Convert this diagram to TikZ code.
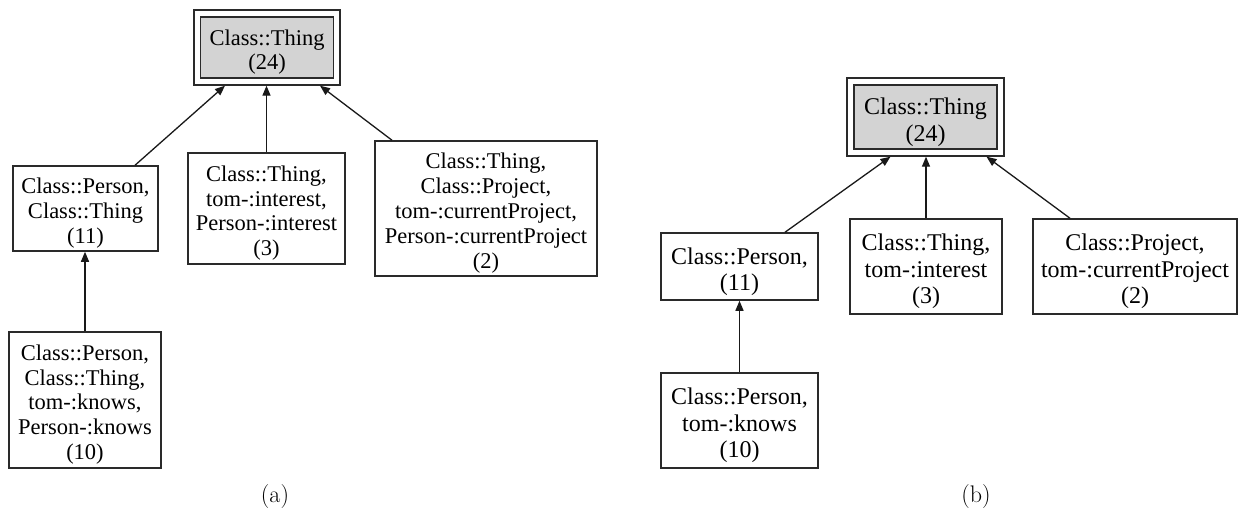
\documentclass[tikz,border=0pt]{standalone}
\usepackage{fontspec}
\newfontfamily\tms{Liberation Serif}
\usetikzlibrary{arrows.meta,calc}
\definecolor{edgec}{HTML}{2A2A2A}
\definecolor{fillc}{HTML}{D3D3D3}
\tikzset{
  box/.style={draw=edgec, line width=1.5pt, rectangle, inner sep=0pt},
  txa/.style={font=\tms\fontsize{22.5}{24.8}\selectfont, align=center, inner sep=0pt, yshift=-4.5pt, text=black},
  txb/.style={font=\tms\fontsize{24}{26.5}\selectfont, align=center, inner sep=0pt, yshift=-5pt, text=black},
  topin/.style={draw=edgec, line width=1.8pt, fill=fillc},
  topout/.style={draw=edgec, line width=1.3pt, rectangle, inner sep=0pt},
  arr/.style={draw=black!90, line width=1.3pt, -{Triangle[length=10pt,width=8pt]}},
  captext/.style={font=\fontsize{24}{28}\selectfont}
}
\begin{document}
\begin{tikzpicture}[x=1pt,y=-1pt]
\useasboundingbox (0,0) rectangle (1243,515);
% ---------- (a) ----------
\node[topout, minimum width=146pt, minimum height=75pt] (thingAout) at (267,47.5) {};
\node[box, topin, minimum width=133pt, minimum height=61pt, label={[txa]center:{Class::Thing\\(24)}}] (thingAin) at (267,47.5) {};
\node[box, minimum width=145pt, minimum height=85pt, label={[txa]center:{Class::Person,\\Class::Thing\\(11)}}] (personA) at (85.5,208.5) {};
\node[box, minimum width=157pt, minimum height=111pt, label={[txa]center:{Class::Thing,\\tom-:interest,\\Person-:interest\\(3)}}] (interestA) at (266.5,208.5) {};
\node[box, minimum width=222pt, minimum height=135pt, label={[txa]center:{Class::Thing,\\Class::Project,\\tom-:currentProject,\\Person-:currentProject\\(2)}}] (projectA) at (486,208.5) {};
\node[box, minimum width=152pt, minimum height=136pt, label={[txa]center:{Class::Person,\\Class::Thing,\\tom-:knows,\\Person-:knows\\(10)}}] (knowsA) at (85,400) {};
\node[captext] (capA) at (275,497) {(a)};
\draw[arr] ($(personA.north)+(49.5,0)$) -- ($(thingAout.south)+(-42,0)$);
\draw[arr] (interestA.north) -- (interestA.north |- thingAout.south);
\draw[arr] ($(projectA.north)+(-94,0)$) -- ($(thingAout.south)+(53,0)$);
\draw[arr] (knowsA.north) -- (knowsA.north |- personA.south);
% ---------- (b) ----------
\node[topout, minimum width=157pt, minimum height=78pt] (thingBout) at (925.5,117) {};
\node[box, topin, minimum width=143pt, minimum height=64pt, label={[txb]center:{Class::Thing\\(24)}}] (thingBin) at (925.5,117) {};
\node[box, minimum width=157pt, minimum height=67pt, label={[txb]center:{Class::Person,\\(11)}}] (personB) at (739.5,266.5) {};
\node[box, minimum width=152pt, minimum height=95pt, label={[txb]center:{Class::Thing,\\tom-:interest\\(3)}}] (interestB) at (926,266.5) {};
\node[box, minimum width=204pt, minimum height=95pt, label={[txb]center:{Class::Project,\\tom-:currentProject\\(2)}}] (projectB) at (1135,266.5) {};
\node[box, minimum width=157pt, minimum height=95pt, label={[txb]center:{Class::Person,\\tom-:knows\\(10)}}] (knowsB) at (739.5,420.5) {};
\node[captext] (capB) at (976,497) {(b)};
\draw[arr] ($(personB.north)+(45.5,0)$) -- ($(thingBout.south)+(-35,0)$);
\draw[arr] (interestB.north) -- (interestB.north |- thingBout.south);
\draw[arr] ($(projectB.north)+(-65,0)$) -- ($(thingBout.south)+(61,0)$);
\draw[arr] (knowsB.north) -- (knowsB.north |- personB.south);
\end{tikzpicture}
\end{document}
